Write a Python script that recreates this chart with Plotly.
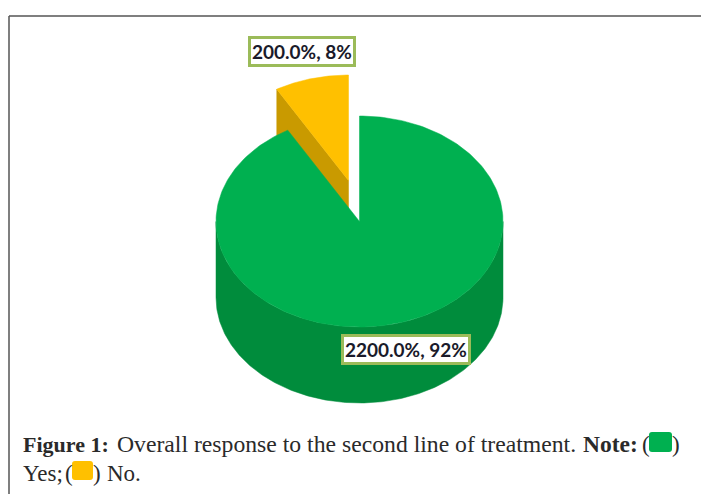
import numpy as np
import plotly.graph_objects as go

categories = ["Yes", "No"]
values = [22, 2]
colors_top = ["#00B050", "#FFC000"]
colors_side = ["#008C3C", "#C99A00"]

W, H = 701, 494
CX, CY, RX, RY, DEPTH = 359.5, 221.5, 143.5, 105.5, 76
EXPLODE_DX, EXPLODE_DY = -11, -41

total = sum(values)
shares = [v / total for v in values]
labels = [f"{v * 100:.1f}%, {round(s * 100)}%" for v, s in zip(values, shares)]

def pt(theta, cx, cy):
    return cx + RX * np.sin(theta), cy - RY * np.cos(theta)

def wedge(a0, a1, cx, cy):
    t = np.linspace(a0, a1, 240)
    xs, ys = pt(t, cx, cy)
    return np.r_[cx, xs, cx], np.r_[cy, ys, cy]

fig = go.Figure()

def poly(x, y, color):
    fig.add_trace(go.Scatter(x=x, y=y, mode="lines", fill="toself", fillcolor=color,
                             line=dict(color=color, width=0.5), hoverinfo="skip", showlegend=False))

a_yes_end = 2 * np.pi * shares[0]
a_no_end = a_yes_end + 2 * np.pi * shares[1]

ncx, ncy = CX + EXPLODE_DX, CY + EXPLODE_DY
lx, ly = pt(a_yes_end, ncx, ncy)
poly([ncx, lx, lx, ncx, ncx], [ncy, ly, ly + DEPTH, ncy + DEPTH, ncy], colors_side[1])
poly(*wedge(a_yes_end, a_no_end, ncx, ncy), colors_top[1])

t = np.linspace(np.pi / 2, 3 * np.pi / 2, 240)
xs, ys = pt(t, CX, CY)
poly(np.r_[xs, xs[::-1], xs[0]], np.r_[ys, ys[::-1] + DEPTH, ys[0]], colors_side[0])
poly(*wedge(0, a_yes_end, CX, CY), colors_top[0])

line = dict(color="#555555", width=1.5)
shapes = [
    dict(type="line", x0=9, x1=9, y0=16, y1=H, line=line),
    dict(type="line", x0=9, x1=W, y0=16, y1=16, line=line),
]

def swatch(x0, y0, x1, y1, color):
    r = 3
    path = (f"M{x0+r},{y0} L{x1-r},{y0} Q{x1},{y0} {x1},{y0+r} L{x1},{y1-r} Q{x1},{y1} {x1-r},{y1} "
            f"L{x0+r},{y1} Q{x0},{y1} {x0},{y1-r} L{x0},{y0+r} Q{x0},{y0} {x0+r},{y0} Z")
    return dict(type="path", path=path, fillcolor=color, line=dict(width=0))

shapes += [swatch(649, 432, 672, 452, colors_top[0]), swatch(72, 461, 93, 480, colors_top[1])]

def label(x, y, text):
    return dict(x=x, y=y, text=f"<b>{text}</b>", showarrow=False, xanchor="center", yanchor="middle",
                bgcolor="white", bordercolor="#9BBB59", borderwidth=3, borderpad=1,
                font=dict(family="Lato", size=19, color="#1A1A2A"))

def cap(x, y, text, size=23):
    return dict(x=x, y=y, text=text, showarrow=False, xanchor="left", yanchor="middle",
                font=dict(family="Liberation Serif", size=size, color="#2A2A2A"))

annotations = [
    label(301.5, 51.5, labels[1]),
    label(406, 349, labels[0]),
    cap(21, 444, "<b>Figure 1:</b>", 22),
    cap(115, 444, "Overall response to the second line of treatment.", 23.7),
    cap(581, 444, "<b>Note:</b>", 23.5),
    cap(640, 444, "("),
    cap(669.5, 444, ")"),
    cap(21, 473, f"{categories[0]};"),
    cap(62.5, 473, "("),
    cap(91, 473, ")"),
    cap(104.5, 473, f"{categories[1]}."),
]

fig.update_layout(
    width=W, height=H, autosize=False, margin=dict(l=0, r=0, t=0, b=0),
    paper_bgcolor="white", plot_bgcolor="white", showlegend=False,
    xaxis=dict(range=[0, W], visible=False, fixedrange=True),
    yaxis=dict(range=[H, 0], visible=False, fixedrange=True),
    shapes=shapes, annotations=annotations,
)
fig.write_html("out.html", config={"displayModeBar": False},
               post_script="document.body.style.margin='0';document.documentElement.style.overflow='hidden';")
